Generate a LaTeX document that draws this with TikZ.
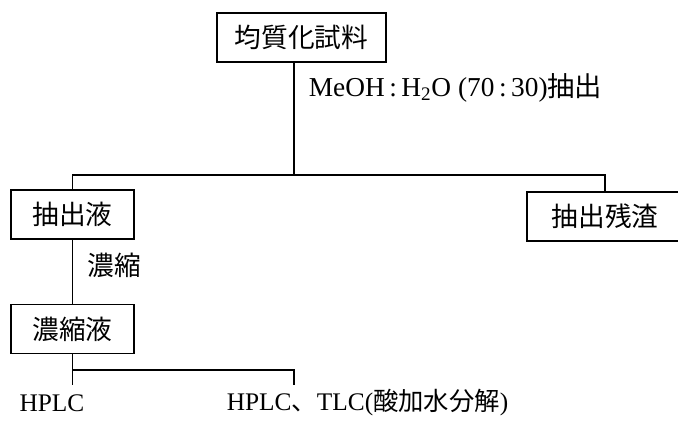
\documentclass[tikz,border=0pt]{standalone}
\usepackage{fontspec}
\setmainfont{Liberation Serif}
\newfontfamily\jpfont{Noto Sans CJK JP}
\usetikzlibrary{positioning}

\begin{document}
\begin{tikzpicture}[x=0.75pt,y=-0.75pt,line width=1.3pt,
    box/.style={draw,rectangle,inner sep=0pt,minimum height=36.75pt,
      font=\jpfont\fontsize{20}{24}\selectfont},
    note/.style={inner sep=0pt,font=\fontsize{20.5}{24}\selectfont},
    result/.style={inner sep=0pt,font=\fontsize{19}{22}\selectfont}]
      \useasboundingbox (0,0) rectangle (678,421);

      \node[box,minimum width=126.75pt] (sample)  at (301.5,37.5)  {均質化試料};
      \node[box,minimum width=92.25pt]  (extract) at (72.5,214.5)  {抽出液};
      \node[box,minimum width=117pt]    (residue) at (605,216.5)   {抽出残渣};
      \node[box,minimum width=92.25pt]  (conc)    at (72.5,329)    {濃縮液};

      \node[note,anchor=west] (solvent) at (308,88)
        {MeOH\,:\,H\textsubscript{2}O (70\,:\,30){\jpfont 抽出}};
      \node[note,anchor=west,font=\jpfont\fontsize{20}{24}\selectfont] (concnote) at (87,265) {濃縮};
      \node[result] (hplc) at (52,403) {HPLC};
      \node[result,anchor=west] (tlc) at (226,403) {HPLC{\jpfont 、}TLC({\jpfont 酸加水分解})};

      \coordinate (fork)  at (294,175);
      \coordinate (fork2) at (72.5,370);
      \coordinate (tickA) at (72.5,385);
      \coordinate (tickB) at (294,385);

      \draw (sample.south -| fork) -- (fork);
      \draw (extract.north) |- (fork) -| (residue.north);
      \draw (extract) -- (conc);
      \draw (conc.south) -- (tickA);
      \draw (fork2) -| (tickB);
    \end{tikzpicture}
\end{document}
